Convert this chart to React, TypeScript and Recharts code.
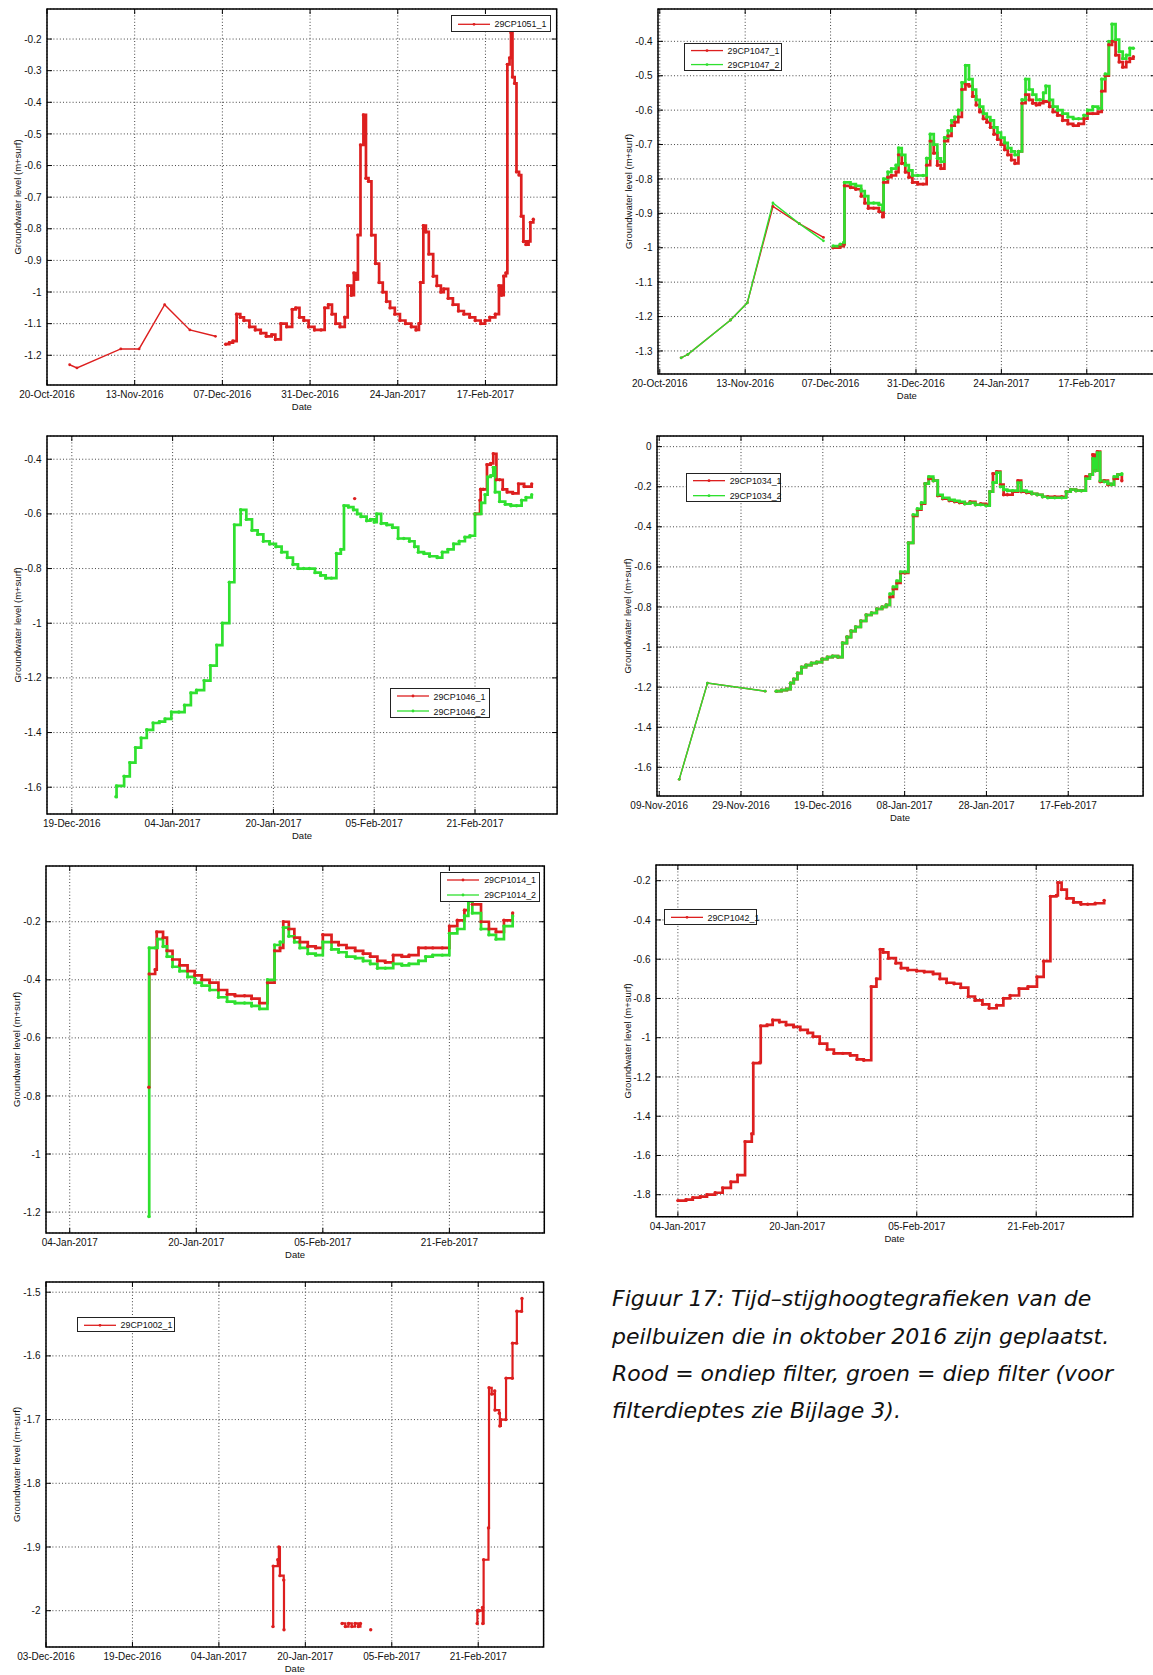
import React from 'react';
import { LineChart, Line, XAxis, YAxis, CartesianGrid, ReferenceArea } from 'recharts';

type Pt = [number, number | null];

const RED = '#dd1f1f';
const GREEN = '#2fe02f';

// Day numbers: days since 20-Oct-2016
// ---------- Chart 1: 29CP1051 ----------
const c1XTicks = [0, 24, 48, 72, 96, 120];
const c1XLabels = ['20-Oct-2016', '13-Nov-2016', '07-Dec-2016', '31-Dec-2016', '24-Jan-2017', '17-Feb-2017'];
const c1YTicks = [-1.2, -1.1, -1.0, -0.9, -0.8, -0.7, -0.6, -0.5, -0.4, -0.3, -0.2];
const c1Manual: Pt[] = [[6.2, -1.23], [8.2, -1.24], [20.2, -1.18], [25.2, -1.18], [32.2, -1.04], [39.1, -1.12], [46.1, -1.14]];
const c1Logger: Pt[] = [
  [48.9, -1.165], [49.9, -1.16], [50.9, -1.155], [51.9, -1.07], [52.9, -1.08], [53.9, -1.09], [55.4, -1.11], [57.0, -1.12],
  [58.5, -1.13], [60.0, -1.14], [61.5, -1.135], [62.5, -1.15], [64.0, -1.10], [65.6, -1.11], [67.1, -1.055], [68.1, -1.05],
  [69.1, -1.08], [70.3, -1.09], [71.6, -1.11], [73.2, -1.12], [75.0, -1.12], [76.0, -1.05], [77.0, -1.04], [78.0, -1.07],
  [79.0, -1.10], [80.2, -1.11], [81.5, -1.08], [82.3, -0.98], [83.3, -1.01], [84.0, -0.94], [84.6, -0.96], [85.1, -0.82],
  [85.8, -0.535], [86.6, -0.44], [87.3, -0.64], [88.0, -0.65], [88.8, -0.82], [89.9, -0.91], [90.9, -0.97], [91.9, -1.0],
  [92.9, -1.03], [93.9, -1.05], [95.2, -1.07], [96.6, -1.09], [98.1, -1.10], [99.7, -1.11], [101.0, -1.12], [101.8, -1.10],
  [102.2, -0.97], [103.0, -0.79], [103.7, -0.81], [104.5, -0.88], [105.7, -0.95], [106.7, -0.98], [107.8, -1.0], [108.6, -0.99],
  [109.8, -1.02], [111.1, -1.04], [112.6, -1.06], [114.1, -1.07], [115.7, -1.08], [117.2, -1.09], [118.7, -1.10], [119.9, -1.09],
  [121.2, -1.08], [122.7, -1.07], [123.7, -0.98], [124.4, -1.01], [125.0, -0.95], [125.6, -0.94], [126.0, -0.28], [126.6, -0.26],
  [127.0, -0.18], [127.4, -0.32], [128.0, -0.34], [128.5, -0.62], [129.2, -0.63], [129.8, -0.76], [130.4, -0.84], [131.1, -0.85],
  [131.8, -0.84], [132.3, -0.78], [133.1, -0.77],
];

// ---------- Chart 2: 29CP1047 ----------
const c2XTicks = [0, 24, 48, 72, 96, 120];
const c2XLabels = ['20-Oct-2016', '13-Nov-2016', '07-Dec-2016', '31-Dec-2016', '24-Jan-2017', '17-Feb-2017'];
const c2YTicks = [-1.3, -1.2, -1.1, -1.0, -0.9, -0.8, -0.7, -0.6, -0.5, -0.4];
const c2ManualRed: Pt[] = [[6.0, -1.32], [7.9, -1.31], [19.9, -1.21], [24.6, -1.16], [31.8, -0.88], [39.2, -0.93], [46.0, -0.97]];
const c2ManualGreen: Pt[] = [[6.0, -1.32], [7.9, -1.31], [19.9, -1.21], [24.6, -1.16], [31.8, -0.87], [39.2, -0.93], [46.0, -0.98]];
const c2LoggerRed: Pt[] = [
  [48.7, -1.0], [50.7, -0.995], [51.7, -0.99], [51.9, -0.82], [53.6, -0.825], [55.1, -0.83], [56.6, -0.85], [57.6, -0.87],
  [58.6, -0.885], [60.1, -0.885], [61.6, -0.895], [62.6, -0.91], [62.9, -0.81], [64.1, -0.795], [65.1, -0.79], [66.4, -0.78],
  [67.1, -0.73], [68.0, -0.755], [69.0, -0.78], [70.0, -0.795], [71.0, -0.81], [72.5, -0.815], [74.0, -0.815], [75.0, -0.76],
  [76.0, -0.69], [77.0, -0.725], [78.0, -0.76], [79.0, -0.77], [80.0, -0.69], [81.0, -0.675], [82.0, -0.645], [82.9, -0.635],
  [83.9, -0.62], [84.9, -0.54], [85.9, -0.525], [86.9, -0.53], [87.9, -0.56], [88.9, -0.585], [89.9, -0.605], [90.9, -0.625],
  [91.9, -0.635], [92.9, -0.65], [93.9, -0.67], [94.9, -0.685], [95.9, -0.70], [96.9, -0.715], [97.8, -0.73], [98.8, -0.745],
  [99.8, -0.755], [100.8, -0.72], [101.8, -0.58], [102.8, -0.555], [103.8, -0.57], [104.8, -0.58], [105.8, -0.585], [106.8, -0.58],
  [107.8, -0.575], [108.5, -0.575], [109.5, -0.59], [110.5, -0.605], [111.8, -0.615], [113.2, -0.63], [114.7, -0.64], [116.2, -0.645],
  [117.7, -0.64], [119.2, -0.625], [120.2, -0.61], [121.7, -0.61], [123.2, -0.605], [124.2, -0.545], [125.2, -0.50], [126.2, -0.41],
  [127.1, -0.40], [128.1, -0.44], [129.1, -0.46], [130.1, -0.475], [131.1, -0.46], [132.1, -0.45], [133.1, -0.445],
];
const c2LoggerGreen: Pt[] = [
  [48.7, -0.995], [50.7, -0.99], [51.7, -0.985], [51.9, -0.81], [53.6, -0.815], [55.1, -0.82], [56.6, -0.835], [57.6, -0.85],
  [58.6, -0.87], [60.1, -0.87], [61.6, -0.875], [62.6, -0.89], [62.9, -0.80], [64.1, -0.78], [65.1, -0.77], [66.4, -0.76],
  [67.1, -0.71], [68.0, -0.73], [69.0, -0.76], [70.0, -0.775], [71.0, -0.79], [72.5, -0.79], [74.0, -0.79], [75.0, -0.74],
  [76.0, -0.67], [77.0, -0.70], [78.0, -0.74], [79.0, -0.75], [80.0, -0.68], [81.0, -0.66], [82.0, -0.63], [82.9, -0.62],
  [83.9, -0.60], [84.9, -0.52], [85.9, -0.47], [86.9, -0.51], [87.9, -0.54], [88.9, -0.57], [89.9, -0.59], [90.9, -0.61],
  [91.9, -0.62], [92.9, -0.63], [93.9, -0.65], [94.9, -0.665], [95.9, -0.68], [96.9, -0.695], [97.8, -0.71], [98.8, -0.72],
  [99.8, -0.73], [100.8, -0.72], [101.8, -0.57], [102.8, -0.51], [103.8, -0.54], [104.8, -0.555], [105.8, -0.57], [106.8, -0.57],
  [107.8, -0.55], [108.5, -0.53], [109.5, -0.57], [110.5, -0.59], [111.8, -0.60], [113.2, -0.61], [114.7, -0.62], [116.2, -0.625],
  [117.7, -0.625], [119.2, -0.615], [120.2, -0.60], [121.7, -0.59], [123.2, -0.595], [124.2, -0.51], [125.2, -0.495], [126.2, -0.40],
  [127.1, -0.35], [128.1, -0.395], [129.1, -0.43], [130.1, -0.45], [131.1, -0.44], [132.1, -0.42], [133.1, -0.42],
];

// ---------- Chart 3: 29CP1046 ----------
const c3XTicks = [60, 76, 92, 108, 124];
const c3XLabels = ['19-Dec-2016', '04-Jan-2017', '20-Jan-2017', '05-Feb-2017', '21-Feb-2017'];
const c3YTicks = [-1.6, -1.4, -1.2, -1.0, -0.8, -0.6, -0.4];
const c3Red: Pt[] = [
  [104.9, -0.544], [105.2, null],
  [124.0, -0.60], [124.8, -0.55], [124.9, -0.51], [125.3, -0.51], [125.9, -0.42], [126.5, -0.415], [126.9, -0.38],
  [127.4, -0.475], [127.9, -0.475], [128.4, -0.51], [129.1, -0.52], [130.0, -0.525], [130.9, -0.49], [131.8, -0.50], [133.0, -0.49],
];
const c3Green: Pt[] = [
  [67.0, -1.635], [67.1, -1.595], [68.3, -1.56], [69.2, -1.51], [70.1, -1.455], [71.0, -1.42], [71.9, -1.39], [72.9, -1.365],
  [73.9, -1.36], [74.8, -1.35], [75.8, -1.325], [77.0, -1.325], [77.9, -1.30], [78.9, -1.255], [79.8, -1.245], [81.0, -1.21],
  [82.0, -1.155], [83.0, -1.08], [83.9, -1.0], [85.0, -0.85], [85.8, -0.64], [86.8, -0.585], [87.7, -0.62], [88.6, -0.66],
  [89.5, -0.675], [90.4, -0.70], [91.4, -0.71], [92.4, -0.72], [93.3, -0.74], [94.2, -0.76], [95.1, -0.785], [95.9, -0.80],
  [96.8, -0.80], [97.7, -0.80], [98.6, -0.815], [99.5, -0.825], [100.3, -0.835], [101.2, -0.835], [102.0, -0.745], [102.7, -0.73],
  [103.2, -0.57], [103.9, -0.575], [104.7, -0.585], [105.3, -0.60], [105.9, -0.61], [106.8, -0.625], [107.4, -0.62], [108.0, -0.63],
  [108.4, -0.60], [109.1, -0.635], [110.0, -0.64], [110.9, -0.65], [111.8, -0.69], [112.7, -0.69], [113.6, -0.70], [114.4, -0.72],
  [115.0, -0.74], [115.9, -0.745], [116.8, -0.755], [118.0, -0.76], [118.8, -0.74], [119.7, -0.73], [120.6, -0.71], [121.5, -0.70],
  [122.4, -0.685], [123.2, -0.68], [124.0, -0.60], [125.0, -0.56], [125.6, -0.53], [126.0, -0.465], [126.5, -0.46], [126.9, -0.43],
  [127.2, -0.52], [127.9, -0.555], [128.8, -0.565], [129.7, -0.57], [130.6, -0.57], [131.4, -0.55], [132.1, -0.54], [133.0, -0.53],
];

// ---------- Chart 4: 29CP1034 ----------
const c4XTicks = [20, 40, 60, 80, 100, 120];
const c4XLabels = ['09-Nov-2016', '29-Nov-2016', '19-Dec-2016', '08-Jan-2017', '28-Jan-2017', '17-Feb-2017'];
const c4YTicks = [-1.6, -1.4, -1.2, -1.0, -0.8, -0.6, -0.4, -0.2, 0];
const c4ManualRed: Pt[] = [[24.9, -1.66], [31.8, -1.18], [45.9, -1.22]];
const c4ManualGreen: Pt[] = [[24.9, -1.66], [31.8, -1.18], [45.9, -1.22]];
const c4LoggerRed: Pt[] = [
  [48.6, -1.22], [49.9, -1.215], [51.2, -1.21], [52.1, -1.18], [52.9, -1.16], [53.8, -1.13], [54.8, -1.10], [55.9, -1.09],
  [57.2, -1.08], [58.5, -1.075], [59.8, -1.06], [61.1, -1.05], [62.4, -1.045], [63.7, -1.05], [64.8, -0.98], [65.9, -0.95],
  [66.9, -0.92], [68.0, -0.90], [69.3, -0.87], [70.6, -0.84], [71.9, -0.83], [73.2, -0.81], [74.5, -0.80], [75.5, -0.79],
  [76.4, -0.75], [77.2, -0.71], [78.1, -0.68], [79.0, -0.63], [80.1, -0.63], [80.9, -0.48], [82.1, -0.345], [83.1, -0.315],
  [84.1, -0.285], [85.0, -0.185], [85.9, -0.16], [87.0, -0.17], [88.1, -0.245], [89.3, -0.26], [90.9, -0.27], [92.2, -0.275],
  [93.4, -0.28], [94.7, -0.285], [96.0, -0.275], [97.3, -0.29], [98.6, -0.285], [99.9, -0.29], [100.8, -0.225], [101.6, -0.135],
  [102.5, -0.125], [103.4, -0.19], [104.2, -0.24], [105.1, -0.24], [106.4, -0.225], [107.7, -0.17], [108.5, -0.225], [109.8, -0.23],
  [111.1, -0.235], [112.4, -0.24], [113.7, -0.25], [115.0, -0.25], [116.7, -0.25], [118.4, -0.25], [119.5, -0.225], [120.6, -0.215],
  [121.9, -0.22], [123.2, -0.22], [124.3, -0.15], [125.3, -0.14], [126.0, -0.04], [126.6, -0.12], [127.1, -0.025], [127.8, -0.175],
  [128.8, -0.17], [129.7, -0.19], [130.5, -0.19], [131.2, -0.16], [132.1, -0.14], [133.1, -0.17],
];
const c4LoggerGreen: Pt[] = [
  [48.6, -1.22], [49.9, -1.215], [51.2, -1.21], [52.1, -1.18], [52.9, -1.16], [53.8, -1.13], [54.8, -1.10], [55.9, -1.09],
  [57.2, -1.08], [58.5, -1.075], [59.8, -1.06], [61.1, -1.05], [62.4, -1.045], [63.7, -1.05], [64.8, -0.98], [65.9, -0.95],
  [66.9, -0.92], [68.0, -0.90], [69.3, -0.87], [70.6, -0.84], [71.9, -0.83], [73.2, -0.81], [74.5, -0.80], [75.5, -0.79],
  [76.4, -0.735], [77.2, -0.70], [78.1, -0.67], [79.0, -0.625], [80.1, -0.625], [80.9, -0.48], [82.1, -0.34], [83.1, -0.31],
  [84.1, -0.28], [85.0, -0.185], [85.9, -0.15], [87.0, -0.17], [88.1, -0.24], [89.3, -0.255], [90.9, -0.265], [92.2, -0.27],
  [93.4, -0.275], [94.7, -0.285], [96.0, -0.28], [97.3, -0.29], [98.6, -0.29], [99.9, -0.295], [100.8, -0.225], [101.6, -0.18],
  [102.5, -0.13], [103.4, -0.20], [104.2, -0.215], [105.1, -0.22], [106.4, -0.22], [107.7, -0.18], [108.5, -0.22], [109.8, -0.225],
  [111.1, -0.235], [112.4, -0.24], [113.7, -0.25], [115.0, -0.255], [116.7, -0.255], [118.4, -0.255], [119.5, -0.225], [120.6, -0.215],
  [121.9, -0.22], [123.2, -0.22], [124.3, -0.16], [125.3, -0.14], [126.0, -0.06], [126.6, -0.12], [127.1, -0.03], [127.8, -0.17],
  [128.8, -0.175], [129.7, -0.185], [130.5, -0.19], [131.2, -0.15], [132.1, -0.14], [133.1, -0.135],
];

// ---------- Chart 5: 29CP1014 ----------
const c5XTicks = [76, 92, 108, 124];
const c5XLabels = ['04-Jan-2017', '20-Jan-2017', '05-Feb-2017', '21-Feb-2017'];
const c5YTicks = [-1.2, -1.0, -0.8, -0.6, -0.4, -0.2];
const c5Red: Pt[] = [
  [86.0, -0.77], [86.05, -0.38], [86.8, -0.365], [87.0, -0.235], [87.8, -0.255], [88.3, -0.30], [89.0, -0.33], [89.9, -0.35],
  [90.9, -0.37], [91.8, -0.385], [92.7, -0.40], [93.7, -0.41], [94.8, -0.435], [95.9, -0.45], [96.9, -0.455], [98.1, -0.455],
  [99.0, -0.465], [100.0, -0.48], [101.0, -0.41], [101.9, -0.30], [102.6, -0.29], [103.0, -0.20], [103.7, -0.225], [104.4, -0.255],
  [105.1, -0.27], [106.1, -0.285], [107.1, -0.29], [108.0, -0.245], [109.1, -0.27], [110.0, -0.28], [111.0, -0.29], [112.1, -0.30],
  [113.1, -0.31], [114.0, -0.32], [114.9, -0.335], [115.9, -0.34], [116.9, -0.315], [118.0, -0.32], [118.9, -0.315], [120.1, -0.29],
  [121.0, -0.29], [121.9, -0.29], [123.1, -0.29], [124.0, -0.215], [125.0, -0.195], [125.9, -0.16], [126.4, -0.11], [126.9, -0.14],
  [128.0, -0.20], [129.0, -0.225], [129.9, -0.235], [130.9, -0.195], [132.0, -0.17],
];
const c5Green: Pt[] = [
  [86.0, -1.215], [86.05, -0.29], [86.8, -0.29], [87.1, -0.26], [87.8, -0.285], [88.3, -0.32], [89.0, -0.355], [89.9, -0.37],
  [90.9, -0.39], [91.8, -0.41], [92.7, -0.42], [93.7, -0.435], [94.8, -0.46], [95.9, -0.475], [96.9, -0.48], [98.1, -0.48],
  [99.0, -0.49], [100.0, -0.50], [101.0, -0.40], [101.9, -0.28], [102.6, -0.27], [103.0, -0.22], [103.7, -0.25], [104.4, -0.27],
  [105.1, -0.29], [106.1, -0.31], [107.1, -0.315], [108.0, -0.27], [109.1, -0.295], [110.0, -0.305], [111.0, -0.32], [112.1, -0.325],
  [113.1, -0.335], [114.0, -0.345], [114.9, -0.36], [115.9, -0.36], [116.9, -0.345], [118.0, -0.35], [118.9, -0.345], [120.1, -0.335],
  [121.0, -0.32], [121.9, -0.315], [123.1, -0.315], [124.0, -0.24], [125.0, -0.225], [125.9, -0.18], [126.4, -0.13], [126.9, -0.17],
  [128.0, -0.225], [129.0, -0.245], [129.9, -0.26], [130.9, -0.215], [132.0, -0.18],
];

// ---------- Chart 6: 29CP1042 ----------
const c6XTicks = [76, 92, 108, 124];
const c6XLabels = ['04-Jan-2017', '20-Jan-2017', '05-Feb-2017', '21-Feb-2017'];
const c6YTicks = [-1.8, -1.6, -1.4, -1.2, -1.0, -0.8, -0.6, -0.4, -0.2];
const c6Red: Pt[] = [
  [76.0, -1.83], [77.1, -1.825], [78.0, -1.815], [79.0, -1.81], [79.9, -1.80], [81.0, -1.79], [82.0, -1.765], [83.1, -1.735],
  [84.0, -1.70], [85.0, -1.53], [85.9, -1.49], [86.1, -1.13], [87.0, -1.125], [87.1, -0.94], [87.95, -0.935], [88.7, -0.91],
  [89.6, -0.92], [90.5, -0.935], [91.5, -0.945], [92.4, -0.96], [93.4, -0.975], [94.1, -0.995], [95.0, -1.03], [96.0, -1.06],
  [96.9, -1.08], [98.1, -1.08], [99.1, -1.09], [100.0, -1.11], [100.9, -1.115], [101.9, -0.74], [102.6, -0.70], [103.1, -0.55],
  [103.5, -0.565], [104.2, -0.595], [105.2, -0.62], [105.9, -0.645], [106.8, -0.655], [108.0, -0.66], [109.0, -0.665], [110.2, -0.675],
  [111.1, -0.70], [112.0, -0.72], [113.0, -0.725], [113.9, -0.745], [114.9, -0.79], [115.8, -0.81], [116.8, -0.83], [117.7, -0.85],
  [118.7, -0.835], [119.6, -0.80], [120.5, -0.785], [121.7, -0.75], [122.9, -0.74], [124.1, -0.69], [125.0, -0.61], [125.9, -0.28],
  [126.7, -0.275], [126.9, -0.21], [127.4, -0.245], [128.1, -0.29], [129.0, -0.31], [130.0, -0.32], [130.9, -0.32], [131.9, -0.315],
  [133.1, -0.30],
];

// ---------- Chart 7: 29CP1002 ----------
const c7XTicks = [44, 60, 76, 92, 108, 124];
const c7XLabels = ['03-Dec-2016', '19-Dec-2016', '04-Jan-2017', '20-Jan-2017', '05-Feb-2017', '21-Feb-2017'];
const c7YTicks = [-2.0, -1.9, -1.8, -1.7, -1.6, -1.5];
const c7Red: Pt[] = [
  [86.0, -2.025], [86.05, -1.93], [86.9, -1.92], [87.1, -1.90], [87.3, -1.945], [88.0, -1.952], [88.05, -2.03], [88.5, null],
  [98.8, -2.02], [99.4, -2.025], [100.0, -2.02], [100.6, -2.025], [101.2, -2.02], [101.8, -2.025], [102.2, -2.02], [102.6, null],
  [104.1, -2.03], [104.5, null],
  [123.8, -2.02], [123.85, -2.0], [124.2, -2.0], [124.8, -1.995], [124.85, -2.02], [125.0, -1.92], [125.9, -1.87], [126.0, -1.65],
  [126.5, -1.66], [127.05, -1.655], [127.1, -1.685], [127.9, -1.69], [128.0, -1.71], [128.2, -1.70], [129.1, -1.70], [129.15, -1.635],
  [130.3, -1.635], [130.35, -1.58], [131.1, -1.58], [131.15, -1.53], [132.0, -1.53], [132.1, -1.51],
];

const CAPTION_LINES = [
  'Figuur 17: Tijd–stijghoogtegrafieken van de',
  'peilbuizen die in oktober 2016 zijn geplaatst.',
  'Rood = ondiep filter, groen = diep filter (voor',
  'filterdieptes zie Bijlage 3).',
];

const FONT = '"Liberation Sans", Arial, Helvetica, sans-serif';

type Series = { data: Pt[]; color: string; width: number; type: 'linear' | 'stepAfter' };
type LegendItem = { name: string; color: string };
type PanelProps = {
  l: number; t: number; r: number; b: number;
  xDomain: [number, number]; yDomain: [number, number];
  xTicks: number[]; xLabels: string[]; yTicks: number[];
  series: Series[];
  legend: { x: number; y: number; w: number; h: number; items: LegendItem[] };
};

const fmtY = (v: number) => String(Math.round(v * 100) / 100);

function Panel(p: PanelProps) {
  const ML = 52, MT = 6, MR = 8, MB = 34;
  const pw = p.r - p.l, ph = p.b - p.t;
  const W = pw + ML + MR, H = ph + MT + MB;
  const L = ML, T = MT, R = ML + pw, B = MT + ph;
  const xTick = (props: any) => {
    const { x, payload } = props;
    const i = p.xTicks.indexOf(payload.value);
    return (
      <g>
        <line x1={x} x2={x} y1={B} y2={B - 5} stroke="#000" strokeWidth={1} />
        <line x1={x} x2={x} y1={T} y2={T + 5} stroke="#000" strokeWidth={1} />
        <text x={x} y={B + 13.5} textAnchor="middle" fontSize={10} fontFamily={FONT} fill="#111">{p.xLabels[i]}</text>
      </g>
    );
  };
  const yTick = (props: any) => {
    const { y, payload } = props;
    return (
      <g>
        <line x1={L} x2={L + 5} y1={y} y2={y} stroke="#000" strokeWidth={1} />
        <line x1={R - 5} x2={R} y1={y} y2={y} stroke="#000" strokeWidth={1} />
        <text x={L - 5.5} y={y + 3.6} textAnchor="end" fontSize={10} fontFamily={FONT} fill="#111">{fmtY(payload.value)}</text>
      </g>
    );
  };
  const lg = p.legend;
  const rowH = lg.h / lg.items.length;
  return (
    <>
      <div style={{ position: 'absolute', left: p.l - ML, top: p.t - MT, width: W, height: H }}>
        <LineChart width={W} height={H} margin={{ top: MT, right: MR, bottom: 0, left: 0 }}>
          <CartesianGrid stroke="#444" strokeDasharray="1 2.2" strokeWidth={1} />
          <XAxis
            type="number" dataKey="x" domain={p.xDomain} allowDataOverflow ticks={p.xTicks} interval={0}
            tick={xTick} tickLine={false} axisLine={false} height={MB}
            label={{
              content: () => (
                <text x={(L + R) / 2} y={B + 25.5} textAnchor="middle" fontSize={9.5} fontFamily={FONT} fill="#111">Date</text>
              ),
            }}
          />
          <YAxis
            type="number" dataKey="y" domain={p.yDomain} allowDataOverflow ticks={p.yTicks} interval={0}
            tick={yTick} tickLine={false} axisLine={false} width={ML}
            label={{
              content: () => (
                <text x={L - 29} y={(T + B) / 2} transform={`rotate(-90 ${L - 29} ${(T + B) / 2})`} textAnchor="middle"
                  dominantBaseline="central" fontSize={9.5} fontFamily={FONT} fill="#111">Groundwater level (m+surf)</text>
              ),
            }}
          />
          <ReferenceArea x1={p.xDomain[0]} x2={p.xDomain[1]} y1={p.yDomain[0]} y2={p.yDomain[1]} fill="none"
            stroke="#000" strokeWidth={1.5} ifOverflow="visible" />
          {p.series.map((s, i) => (
            <Line
              key={i}
              data={s.data.map(([x, y]) => ({ x, y }))}
              dataKey="y"
              type={s.type}
              stroke={s.color}
              strokeWidth={s.width}
              dot={{ r: s.width > 2 ? 1.7 : 1.4, fill: s.color, stroke: 'none' }}
              connectNulls={false}
              isAnimationActive={false}
            />
          ))}
        </LineChart>
      </div>
      <div style={{
        position: 'absolute', left: lg.x, top: lg.y, width: lg.w, height: lg.h, background: '#fff',
        border: '1px solid #222', boxSizing: 'border-box', overflow: 'visible',
      }}>
        {lg.items.map((it, i) => (
          <div key={i} style={{ position: 'absolute', left: 0, top: rowH * i, height: rowH, width: lg.w, display: 'flex', alignItems: 'center' }}>
            <svg width={40} height={rowH} style={{ flex: 'none' }}>
              <line x1={6} x2={38} y1={rowH / 2 - 0.5} y2={rowH / 2 - 0.5} stroke={it.color} strokeWidth={1.3} />
              <circle cx={22} cy={rowH / 2 - 0.5} r={1.4} fill={it.color} />
            </svg>
            <span style={{ fontFamily: FONT, fontSize: 8.9, color: '#111', marginLeft: 3, whiteSpace: 'nowrap' }}>{it.name}</span>
          </div>
        ))}
      </div>
    </>
  );
}

export default function App() {
  return (
    <div style={{ position: 'absolute', left: 0, top: 0, width: 1153, height: 1675, background: '#fff', overflow: 'hidden' }}>
      <Panel
        l={47} t={9} r={556.7} b={385}
        xDomain={[0, 139.5]} yDomain={[-1.294, -0.105]}
        xTicks={c1XTicks} xLabels={c1XLabels} yTicks={c1YTicks}
        series={[
          { data: c1Manual, color: RED, width: 1.4, type: 'linear' },
          { data: c1Logger, color: RED, width: 2.7, type: 'stepAfter' },
        ]}
        legend={{ x: 450.5, y: 14.7, w: 100, h: 17.6, items: [{ name: '29CP1051_1', color: RED }] }}
      />
      <Panel
        l={658.2} t={9} r={1156} b={374}
        xDomain={[-0.5, 139.4]} yDomain={[-1.367, -0.306]}
        xTicks={c2XTicks} xLabels={c2XLabels} yTicks={c2YTicks}
        series={[
          { data: c2ManualRed, color: RED, width: 1.4, type: 'linear' },
          { data: c2LoggerRed, color: RED, width: 2.7, type: 'stepAfter' },
          { data: c2ManualGreen, color: GREEN, width: 1.4, type: 'linear' },
          { data: c2LoggerGreen, color: GREEN, width: 2.7, type: 'stepAfter' },
        ]}
        legend={{ x: 683.6, y: 42.7, w: 98.4, h: 28.3, items: [{ name: '29CP1047_1', color: RED }, { name: '29CP1047_2', color: GREEN }] }}
      />
      <Panel
        l={46.6} t={436} r={556.7} b={814}
        xDomain={[56.06, 137.03]} yDomain={[-1.698, -0.315]}
        xTicks={c3XTicks} xLabels={c3XLabels} yTicks={c3YTicks}
        series={[
          { data: c3Red, color: RED, width: 2.7, type: 'stepAfter' },
          { data: c3Green, color: GREEN, width: 2.7, type: 'stepAfter' },
        ]}
        legend={{ x: 389.5, y: 688.3, w: 100.5, h: 30, items: [{ name: '29CP1046_1', color: RED }, { name: '29CP1046_2', color: GREEN }] }}
      />
      <Panel
        l={657.1} t={436} r={1143.2} b={796}
        xDomain={[19.46, 138.3]} yDomain={[-1.743, 0.053]}
        xTicks={c4XTicks} xLabels={c4XLabels} yTicks={c4YTicks}
        series={[
          { data: c4ManualRed, color: RED, width: 1.4, type: 'linear' },
          { data: c4LoggerRed, color: RED, width: 2.7, type: 'stepAfter' },
          { data: c4ManualGreen, color: GREEN, width: 1.4, type: 'linear' },
          { data: c4LoggerGreen, color: GREEN, width: 2.7, type: 'stepAfter' },
        ]}
        legend={{ x: 685.7, y: 473.3, w: 95.6, h: 28.7, items: [{ name: '29CP1034_1', color: RED }, { name: '29CP1034_2', color: GREEN }] }}
      />
      <Panel
        l={45.5} t={865.7} r={543.8} b={1232.7}
        xDomain={[73.0, 136.0]} yDomain={[-1.272, -0.008]}
        xTicks={c5XTicks} xLabels={c5XLabels} yTicks={c5YTicks}
        series={[
          { data: c5Red, color: RED, width: 2.7, type: 'stepAfter' },
          { data: c5Green, color: GREEN, width: 2.7, type: 'stepAfter' },
        ]}
        legend={{ x: 440.2, y: 871.7, w: 99.8, h: 30, items: [{ name: '29CP1014_1', color: RED }, { name: '29CP1014_2', color: GREEN }] }}
      />
      <Panel
        l={656.4} t={865} r={1133.3} b={1216.7}
        xDomain={[73.07, 136.95]} yDomain={[-1.912, -0.12]}
        xTicks={c6XTicks} xLabels={c6XLabels} yTicks={c6YTicks}
        series={[{ data: c6Red, color: RED, width: 2.7, type: 'stepAfter' }]}
        legend={{ x: 663.5, y: 909.3, w: 93.5, h: 15.7, items: [{ name: '29CP1042_1', color: RED }] }}
      />
      <Panel
        l={46.2} t={1282.3} r={543.8} b={1647.3}
        xDomain={[44, 136.1]} yDomain={[-2.057, -1.484]}
        xTicks={c7XTicks} xLabels={c7XLabels} yTicks={c7YTicks}
        series={[{ data: c7Red, color: RED, width: 2.2, type: 'stepAfter' }]}
        legend={{ x: 76.6, y: 1316.7, w: 98, h: 15.6, items: [{ name: '29CP1002_1', color: RED }] }}
      />
      <div style={{
        position: 'absolute', left: 612, top: 1280.4, fontFamily: '"DejaVu Sans", sans-serif', fontStyle: 'italic',
        fontSize: 22, lineHeight: '37.3px', color: '#111', whiteSpace: 'nowrap',
      }}>
        {CAPTION_LINES.map((ln, i) => <div key={i}>{ln}</div>)}
      </div>
    </div>
  );
}
